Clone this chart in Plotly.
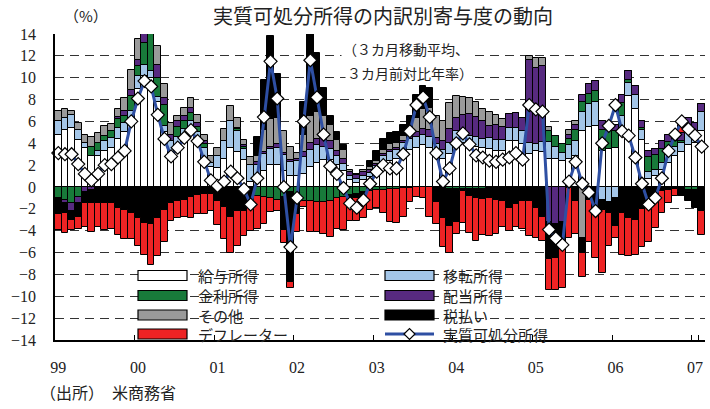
import plotly.graph_objects as go

# ---------------- data (monthly, Jan 1999 - Feb 2007, % contribution) ----------------
months = [f"{1999 + i // 12}-{i % 12 + 1:02d}" for i in range(98)]
tick_vals = [f"{y}-01" for y in range(1999, 2008)]
tick_text = ["99", "00", "01", "02", "03", "04", "05", "06", "07"]

wages = [4.8, 5.2, 5.4, 4.3, 3.6, 2.8, 2.8, 3.3, 3.6, 4.4,
         5.0, 6.2, 9.0, 10.2, 10.0, 7.8, 5.0, 3.0, 3.6, 4.5,
         4.8, 4.2, 2.6, 1.8, 1.7, 2.6, 3.6, 3.2, 2.5, 0.5,
         0.8, 1.5, 2.0, 2.0, 1.5, 1.0, 1.0, 1.2, 1.8, 2.2,
         2.5, 2.5, 2.0, 1.5, 0.6, 0.4, 0.6, 0.9, 1.3, 2.0,
         2.4, 2.6, 3.0, 3.4, 3.6, 3.8, 3.6, 3.0, 2.6, 3.0,
         3.9, 4.0, 3.8, 3.7, 3.6, 3.5, 3.3, 3.3, 4.2, 4.2,
         3.9, 3.0, 3.3, 3.2, 2.6, 2.6, 2.4, 2.6, 2.8, 5.1,
         5.5, 5.6, 3.3, 3.5, 3.6, 5.0, 8.3, 7.1, 4.3, 0.7,
         1.0, 1.6, 2.2, 2.8, 3.2, 3.8, 4.0, 5.1]
transfers = [1.2, 1.1, 1.2, 0.9, 0.4, 0.0, 0.5, 0.9, 0.9, 1.0,
             0.9, 0.8, 1.2, 1.0, 0.6, 0.4, 0.6, 1.2, 1.0, 0.8,
             1.2, 0.8, 1.0, 0.4, 1.1, 1.6, 2.4, 1.9, 1.0, 1.5,
             1.2, 1.5, 1.5, 1.6, 1.4, 1.3, 1.4, 1.5, 1.6, 1.6,
             1.2, 1.0, 0.8, 0.6, 0.4, 0.3, 0.4, 0.4, 0.6, 0.8,
             0.8, 0.8, 1.0, 1.0, 1.0, 1.0, 1.0, 0.9, 0.8, 1.0,
             1.2, 0.8, 0.9, 0.9, 0.8, 1.0, 1.0, 1.0, 1.2, 1.2,
             1.2, 1.0, 0.6, 0.9, 1.5, 1.1, 0.7, 1.2, 1.4, 1.8,
             2.1, 2.2, -1.2, -1.4, -1.0, 1.5, 1.2, 1.3, 0.9, 0.7,
             0.6, 0.6, 0.9, 0.9, 0.8, 1.2, 1.1, 1.8]
interest = [-1.0, -1.2, -1.5, -0.9, 0.0, 0.9, 0.7, 0.5, 0.6, 0.8,
            0.6, 1.3, 0.9, 2.0, 3.6, 1.8, 1.9, 0.0, 0.9, 0.7,
            0.8, 0.5, 0.3, 0.0, 0.0, 0.0, 0.0, 0.2, 0.2, 0.0,
            -0.8, -0.9, -1.0, -1.2, -0.9, -0.5, -1.5, -1.3, -1.3, -1.4,
            -1.4, -1.3, -1.0, -0.9, -0.7, -0.6, -0.5, -0.4, -0.3, -0.3,
            -0.2, -0.2, -0.1, -0.1, 0.0, 0.0, 0.0, 0.0, 0.0, -0.2,
            -0.2, -0.2, -0.2, -0.2, -0.2, 0.0, 0.0, 0.0, 0.0, 0.0,
            0.0, 0.0, 0.0, 0.0, 1.0, 1.0, 0.8, 0.6, 1.0, 0.9,
            0.9, 1.0, 1.9, 1.6, 1.5, 1.2, 0.3, 0.0, 0.2, 1.3,
            1.3, 1.3, 1.0, 0.5, 0.2, -0.3, -0.3, 0.0]
dividends = [0.0, -0.3, -0.7, -0.6, -0.5, -0.3, -0.1, 0.0, 0.0, 0.2,
             0.5, 0.6, 0.5, 1.0, 1.0, 1.2, 0.6, 0.6, 0.5, 0.5,
             0.4, 0.4, 0.3, 0.0, -0.3, -0.1, 0.0, 0.1, 0.1, 0.0,
             0.3, 0.2, 0.2, 0.3, 0.2, 0.2, 0.2, 0.5, 0.6, 0.6,
             0.8, 0.7, 0.5, 0.5, 0.4, 0.4, 0.4, 0.3, 0.2, 0.2,
             0.2, 0.2, 0.2, 0.3, 0.4, 0.5, 0.6, 0.6, 0.8, 1.3,
             1.2, 1.8, 2.0, 1.8, 1.6, 1.1, 1.4, 1.2, 1.3, 1.4,
             1.2, 7.6, 7.0, 7.0, -3.2, -3.4, -3.2, 0.4, 0.5, 0.6,
             0.9, 0.9, 0.8, 0.7, 0.6, 0.7, 0.8, 0.8, 0.6, 0.6,
             0.6, 0.7, 0.7, 0.7, 0.7, 1.3, 0.8, 0.7]
others = [1.0, 0.8, 0.4, 0.7, 0.8, 0.9, 0.9, 0.9, 0.7, 0.7,
          1.1, 1.8, 1.9, 1.7, 1.1, 1.7, 1.3, 1.1, 0.5, 0.7,
          0.9, 0.7, 0.6, 0.6, 0.8, 1.1, 1.4, 0.9, 0.5, 0.7,
          0.5, 2.0, 2.5, 2.4, 2.0, 1.2, 0.5, 1.6, 2.5, 2.5,
          2.0, 1.5, 1.0, 0.8, 0.2, 0.1, 0.2, 0.2, 0.3, 0.4,
          0.5, 0.4, 0.5, 0.8, 1.3, 1.8, 2.0, 2.0, 1.8, 2.4,
          2.0, 1.6, 1.4, 1.4, 1.1, 1.3, 0.9, 0.7, 0.0, 0.0,
          0.0, 0.4, 0.9, 0.7, 0.4, 0.0, 0.0, 0.4, 0.3, -4.7,
          0.0, 0.0, 0.0, 0.0, 0.0, 0.0, 0.0, 0.0, 0.0, 0.0,
          0.0, 0.0, 0.0, 0.0, 0.0, 0.0, 0.0, 0.0]
taxes = [-1.5, -0.9, -0.8, -1.2, -1.0, -1.2, -1.4, -1.5, -1.5, -1.9,
         -2.1, -2.4, -2.8, -3.3, -3.4, -2.8, -2.1, -1.5, -1.3, -1.2,
         -0.9, -0.7, -0.6, -0.6, -1.0, -1.7, -2.7, -2.2, -2.2, -1.9,
         1.8, 4.6, 7.6, 4.0, -3.0, -8.2, -1.0, 3.0, 9.2, 5.4,
         2.6, 0.8, 0.7, 0.4, -0.3, -0.4, -0.3, 0.6, 0.9, 1.0,
         1.0, 1.0, 1.0, 1.0, 2.1, 2.1, 1.9, -1.4, -2.8, -3.4,
         -3.0, -0.2, -0.6, -0.8, -0.9, -1.0, -1.2, -1.3, -1.9, -1.6,
         -1.3, -1.3, -1.9, -2.7, -3.4, -3.1, -2.4, -0.1, -1.3, -1.3,
         -1.2, -2.0, -0.9, -1.0, -2.6, -2.4, -2.8, -3.0, -2.0, -1.5,
         -1.0, -0.4, -0.3, -0.2, -0.8, -1.0, -1.6, -2.2]
deflator = [-1.4, -1.8, -0.9, -1.1, -2.2, -2.6, -2.2, -2.4, -2.3, -2.5,
            -2.7, -2.4, -2.6, -2.9, -3.7, -3.5, -2.9, -1.6, -1.5, -1.5,
            -1.9, -1.8, -1.9, -1.6, -2.2, -3.0, -3.3, -3.2, -2.3, -2.1,
            -3.0, -2.5, -1.3, -1.0, -1.2, -0.5, -1.6, -0.5, -2.8, -2.7,
            -2.9, -3.3, -2.8, -3.0, -2.1, -2.1, -2.0, -1.7, -1.6, -2.1,
            -3.0, -3.1, -2.6, -1.3, -0.9, -1.0, -2.7, -2.0, -2.7, -2.4,
            -1.1, -2.9, -3.4, -3.9, -3.3, -3.5, -3.1, -2.4, -2.1, -2.1,
            -2.5, -3.2, -2.8, -2.2, -2.8, -2.9, -3.6, -4.6, -3.0, -2.2,
            -3.8, -4.5, -5.8, -3.0, -1.1, -3.8, -3.5, -3.2, -3.5, -3.5,
            -2.75, -2.0, -1.2, -0.6, 0.8, 0.0, 0.0, -2.2]
real_dpi = [3.1, 3.0, 3.0, 2.1, 1.2, 0.6, 1.2, 2.0, 2.1, 2.7,
            3.3, 6.0, 8.1, 9.7, 9.2, 6.6, 4.4, 2.8, 3.6, 4.5,
            5.2, 4.2, 2.3, 0.6, 0.1, 0.5, 1.4, 0.8, -0.2, -1.6,
            0.8, 6.4, 11.5, 8.1, 0.0, -5.5, -1.0, 6.0, 11.6, 8.2,
            4.8, 1.9, 1.2, -0.1, -1.5, -1.9, -1.2, 0.3, 1.4, 2.0,
            1.7, 1.7, 3.0, 5.1, 7.5, 8.2, 6.4, 3.1, 0.5, 1.7,
            4.0, 4.9, 3.9, 2.9, 2.7, 2.4, 2.3, 2.5, 2.7, 3.1,
            2.5, 7.5, 7.1, 6.9, -3.9, -4.7, -5.3, 0.5, 2.3, 0.3,
            -0.5, -2.2, 4.0, 5.6, 7.5, 5.1, 4.7, 2.7, 0.3, -1.6,
            -1.0, 0.8, 3.3, 4.8, 6.0, 5.3, 4.7, 3.7]

bar_names = ["給与所得", "移転所得", "金利所得", "配当所得", "その他", "税払い", "デフレーター"]
bar_values = [wages, transfers, interest, dividends, others, taxes, deflator]
bar_colors = ["#FFFFFF", "#A4C6E8", "#187A3A", "#572A80", "#9A9A9A", "#000000", "#EE2324"]
line_name = "実質可処分所得"
line_color = "#2E4FA3"

TXT = "#222222"
SERIF = "Liberation Serif"
JP = "Noto Sans CJK JP"

fig = go.Figure()
for name, vals, col in zip(bar_names, bar_values, bar_colors):
    fig.add_trace(go.Bar(x=months, y=vals, name=name, showlegend=False,
                         marker=dict(color=col, line=dict(color="black", width=1))))
fig.add_trace(go.Scatter(x=months, y=real_dpi, name=line_name, mode="lines+markers",
                         showlegend=False, cliponaxis=False,
                         line=dict(color=line_color, width=3),
                         marker=dict(symbol="diamond", size=10, color="white",
                                     line=dict(color="black", width=1.2))))

# plot area: x 55..705, y 34..340 px
L, R, T, B = 55, 705, 34, 340
def px(x):
    return (x - L) / (R - L)
def py(y):
    return (B - y) / (B - T)

shapes = [dict(type="rect", xref="paper", yref="paper", layer="between",
               x0=px(122), x1=px(608), y0=py(339), y1=py(262),
               fillcolor="white", line=dict(width=0))]
annotations = []
entries = list(zip(bar_names, bar_colors)) + [(line_name, None)]
row_y = [275.5, 295.5, 315, 334]
col_box = [(138, 187), (385, 434)]
col_txt = [196, 441]
for k, (name, col) in enumerate(entries):
    r, c = k // 2, k % 2
    yc = row_y[r]
    x0, x1 = col_box[c]
    if col is not None:
        shapes.append(dict(type="rect", xref="paper", yref="paper", layer="above",
                           x0=px(x0), x1=px(x1), y0=py(yc + 5), y1=py(yc - 5),
                           fillcolor=col, line=dict(color="black", width=1.2)))
    else:
        shapes.append(dict(type="line", xref="paper", yref="paper", layer="above",
                           x0=px(x0), x1=px(x1), y0=py(yc), y1=py(yc),
                           line=dict(color=line_color, width=3)))
        xm = px((x0 + x1) / 2)
        dx, dy = 5.5 / (R - L), 5.5 / (B - T)
        ym = py(yc)
        shapes.append(dict(type="path", xref="paper", yref="paper", layer="above",
                           path=f"M {xm - dx},{ym} L {xm},{ym + dy} L {xm + dx},{ym} L {xm},{ym - dy} Z",
                           fillcolor="white", line=dict(color="black", width=1.2)))
    annotations.append(dict(xref="paper", yref="paper", x=px(col_txt[c]), y=py(yc),
                            xanchor="left", yanchor="middle", text=name, showarrow=False,
                            font=dict(family=JP, size=15, color=TXT)))

annotations += [
    dict(xref="paper", yref="paper", x=px(86), y=py(16), text="（%）", showarrow=False,
         xanchor="center", yanchor="middle", font=dict(family=JP, size=15, color=TXT)),
    dict(xref="paper", yref="paper", x=px(383), y=py(16), text="実質可処分所得の内訳別寄与度の動向",
         showarrow=False, xanchor="center", yanchor="middle",
         font=dict(family=JP, size=20, color=TXT)),
    dict(xref="paper", yref="paper", x=px(341), y=py(49), text="（３カ月移動平均、", showarrow=False,
         xanchor="left", yanchor="middle", font=dict(family=JP, size=14, color=TXT),
         bgcolor="white"),
    dict(xref="paper", yref="paper", x=px(345), y=py(73), text="３カ月前対比年率）", showarrow=False,
         xanchor="left", yanchor="middle", font=dict(family=JP, size=14, color=TXT),
         bgcolor="white"),
    dict(xref="paper", yref="paper", x=px(38), y=py(392), text="（出所）　米商務省", showarrow=False,
         xanchor="left", yanchor="middle", font=dict(family=JP, size=16, color=TXT)),
]

fig.update_layout(
    width=710, height=409,
    margin=dict(l=L, r=710 - R, t=T, b=409 - B, autoexpand=False),
    paper_bgcolor="white", plot_bgcolor="white",
    barmode="relative", bargap=0,
    showlegend=False,
    shapes=shapes, annotations=annotations,
    xaxis=dict(type="category", range=[-0.5, 97.5], tickmode="array",
               tickvals=tick_vals, ticktext=tick_text, tickson="boundaries",
               tickangle=0, automargin=False,
               ticks="inside", ticklen=5, tickwidth=1.2, tickcolor="black",
               showline=True, linecolor="black", linewidth=1.5, showgrid=False,
               ticklabelstandoff=12,
               tickfont=dict(family=SERIF, size=16, color=TXT), fixedrange=True),
    yaxis=dict(range=[-14, 14], tick0=0, dtick=2, ticks="", automargin=False,
               showgrid=True, gridcolor="#333333", gridwidth=1, griddash="9px,6px",
               zeroline=False, showline=True, linecolor="black", linewidth=1.5,
               ticklabelstandoff=14,
               tickfont=dict(family=SERIF, size=16, color=TXT), fixedrange=True),
)

fig.write_html("out.html", config={"displayModeBar": False},
               post_script="document.body.style.margin='0';document.body.style.overflow='hidden';")
